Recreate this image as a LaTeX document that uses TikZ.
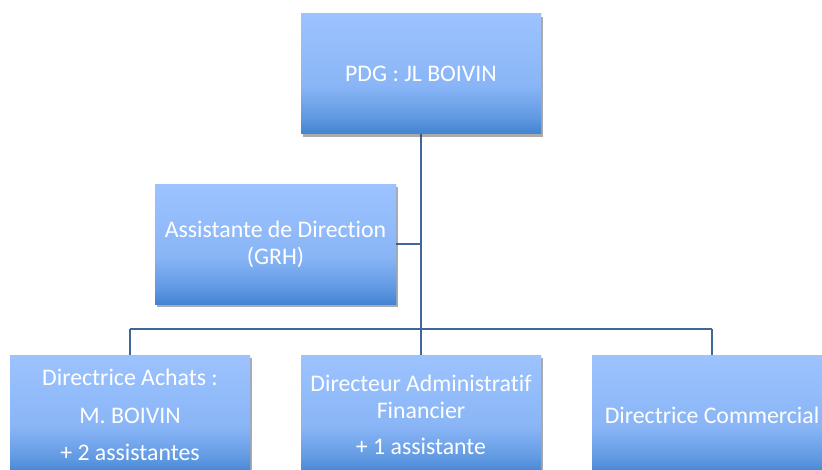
\documentclass[tikz,border=0pt]{standalone}
\usepackage{fontspec}
\setmainfont{Carlito}[Ligatures={NoCommon,NoRare}]
\usetikzlibrary{shadows}
\definecolor{gtop}{RGB}{157,195,255}
\definecolor{gmid}{RGB}{137,181,246}
\definecolor{glow}{RGB}{96,153,226}
\definecolor{gbot}{RGB}{66,131,209}
\definecolor{linec}{RGB}{65,103,154}
\pgfdeclareverticalshading{boxgrad}{100bp}{color(0bp)=(gbot); color(25bp)=(gbot); color(32bp)=(glow); color(45bp)=(gmid); color(75bp)=(gtop); color(100bp)=(gtop)}
\tikzset{
  orgbox/.style={rectangle, minimum width=240pt, minimum height=120pt, inner sep=2pt,
    shading=boxgrad, text=white, align=center,
    font=\fontsize{23.8}{26.7}\selectfont,
    drop shadow={shadow xshift=1.5pt, shadow yshift=-3pt, opacity=0.18, fill=black}},
  conn/.style={draw=linec, line width=2pt}
}
\begin{document}
\begin{tikzpicture}[x=1pt,y=-1pt]
\clip (0,0) rectangle (822,470);
\fill[white] (0,0) rectangle (822,470);
\coordinate (busL) at (130,329.5);
\coordinate (busR) at (712,329.5);
\node[orgbox] (pdg) at (421,74) {PDG : JL BOIVIN};
\node[orgbox, minimum width=241pt] (assist) at (275.5,244.5) {Assistante de Direction\\(GRH)};
\node[orgbox] (achats) at (130,415) {Directrice Achats :\\[11pt]M. BOIVIN\\[11pt]+ 2 assistantes};
\node[orgbox] (daf) at (421,415) {Directeur Administratif\\Financier\\[10pt]+ 1 assistante};
\node[orgbox] (com) at (712,415) {Directrice Commercial};
\draw[conn] (pdg.south) -- (daf.north);
\draw[conn] (busL) -- (busR);
\draw[conn] (busL) -- (achats.north);
\draw[conn] (busR) -- (com.north);
\draw[conn] (assist.east) -- (assist.east -| pdg.south);
% redraw boxes on top of connectors
\node[orgbox] at (pdg) {PDG : JL BOIVIN};
\node[orgbox, minimum width=241pt] at (assist) {Assistante de Direction\\(GRH)};
\node[orgbox] at (achats) {Directrice Achats :\\[11pt]M. BOIVIN\\[11pt]+ 2 assistantes};
\node[orgbox] at (daf) {Directeur Administratif\\Financier\\[10pt]+ 1 assistante};
\node[orgbox] at (com) {Directrice Commercial};
\end{tikzpicture}
\end{document}
